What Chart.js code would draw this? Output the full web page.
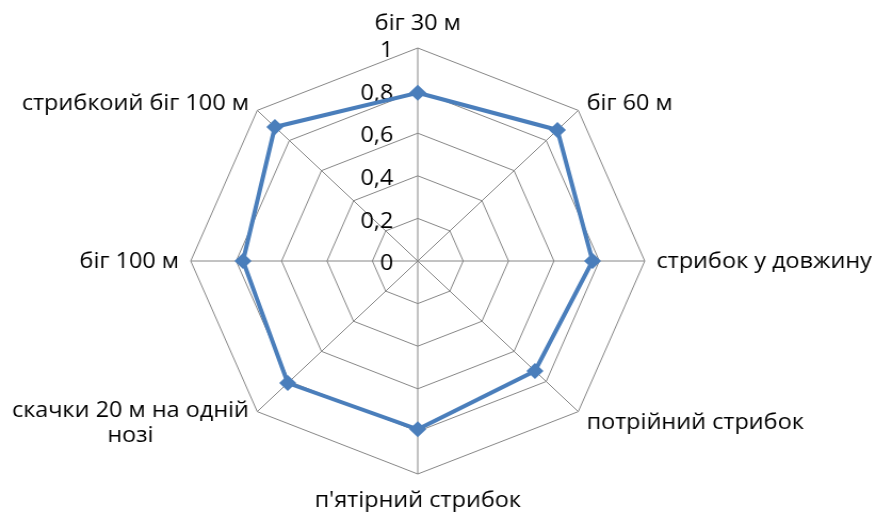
<!DOCTYPE html>
<html>
<head>
<meta charset="utf-8">
<script src="https://cdn.jsdelivr.net/npm/chart.js@4.4.1/dist/chart.umd.min.js"></script>
<style>
  html, body { margin: 0; padding: 0; background: #fff; overflow: hidden; }
  /* the plot is slightly wider than tall */
  #wrap { width: 823px; height: 513px; transform: scaleX(1.0657); transform-origin: 0 0; }
</style>
</head>
<body>
<div id="wrap"><canvas id="c" width="823" height="513"></canvas></div>
<script>
// Exercises (axes of the radar)
const categories = [
  ['біг 30 м'],
  ['біг 60 м'],
  ['стрибок у довжину'],
  ['потрійний стрибок'],
  ["п'ятірний стрибок"],
  ['скачки 20 м на одній', 'нозі'],
  ['біг 100 м'],
  ['стрибкоий біг 100 м']
];
// Normalised results per exercise
const results = [0.79, 0.87, 0.77, 0.73, 0.79, 0.81, 0.77, 0.89];
// Radial axis labels
const tickLabels = ['0', '0,2', '0,4', '0,6', '0,8', '1'];

const FONT = '22px "Open Sans"';

// Radial tick labels, right-aligned just left of the vertical axis
const tickLabelPlugin = {
  id: 'tickLabelPlugin',
  beforeDatasetsDraw(chart) {
    const s = chart.scales.r;
    const ctx = chart.ctx;
    ctx.save();
    ctx.font = FONT;
    ctx.fillStyle = '#000';
    ctx.textAlign = 'right';
    ctx.textBaseline = 'middle';
    s.ticks.forEach((t) => {
      const d = s.getDistanceFromCenterForValue(t.value);
      ctx.fillText(t.label, s.xCenter - 23, s.yCenter - d + 3);
    });
    ctx.restore();
  }
};

// Category labels placed around the outer ring
const pointLabelPlugin = {
  id: 'pointLabelPlugin',
  afterDraw(chart) {
    const s = chart.scales.r;
    const ctx = chart.ctx;
    const labels = chart.data.labels;
    const pad = 11;
    const lineH = 25;
    ctx.save();
    ctx.font = FONT;
    ctx.fillStyle = '#000';
    ctx.textBaseline = 'alphabetic';
    labels.forEach((lines, i) => {
      const p = s.getPointPosition(i, s.drawingArea + pad);
      const dx = p.x - s.xCenter;
      const dy = p.y - s.yCenter;
      const widths = lines.map(l => ctx.measureText(l).width);
      const blockW = Math.max(...widths);
      let cx; // centre of the text block
      if (Math.abs(dx) < 1) cx = p.x;
      else if (dx > 0) cx = p.x + blockW / 2;
      else cx = p.x - blockW / 2;
      let firstBase;
      const blockH = lineH * (lines.length - 1);
      if (Math.abs(dx) < 1 && dy < 0) firstBase = p.y - 7;
      else if (Math.abs(dx) < 1 && dy > 0) firstBase = p.y + 22;
      else firstBase = p.y + 7 - blockH / 2 + (dy > 1 ? 3 : 0);
      ctx.textAlign = 'center';
      lines.forEach((l, k) => ctx.fillText(l, cx, firstBase + k * lineH));
    });
    ctx.restore();
  }
};

new Chart(document.getElementById('c'), {
  type: 'radar',
  data: {
    labels: categories,
    datasets: [{
      data: results,
      borderColor: '#4A7EBB',
      backgroundColor: '#4A7EBB',
      borderWidth: 4,
      fill: false,
      pointStyle: 'rectRot',
      pointRadius: 8,
      pointBorderWidth: 0,
      pointBackgroundColor: '#4A7EBB',
      tension: 0
    }]
  },
  options: {
    responsive: false,
    animation: false,
    layout: { padding: { top: 48, bottom: 39, left: 179, right: 218 } },
    plugins: { legend: { display: false }, tooltip: { enabled: false } },
    scales: {
      r: {
        min: 0,
        max: 1,
        ticks: {
          stepSize: 0.2,
          display: false,
          callback: (v, i) => tickLabels[i]
        },
        grid: { color: '#868686', lineWidth: 1 },
        angleLines: { color: '#868686', lineWidth: 1 },
        pointLabels: { display: false }
      }
    }
  },
  plugins: [tickLabelPlugin, pointLabelPlugin]
});
</script>
</body>
</html>
